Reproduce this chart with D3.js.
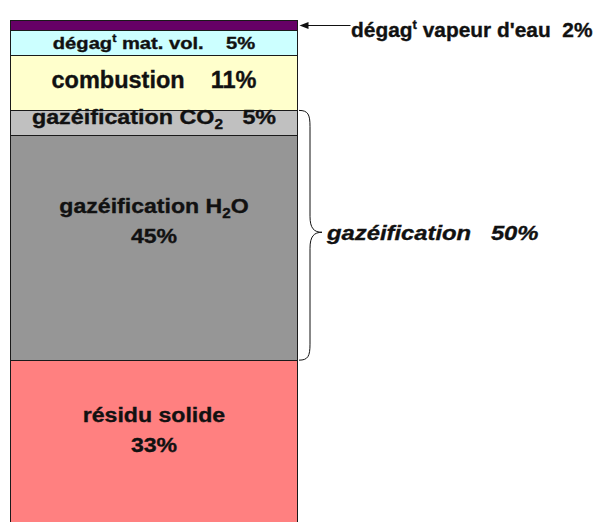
<!DOCTYPE html>
<html>
<head>
<meta charset="utf-8">
<script src="https://cdn.jsdelivr.net/npm/d3@7"></script>
<style>
  html, body { margin: 0; padding: 0; background: #fff; }
  svg { display: block; }
  text { font-family: "Liberation Sans", Arial, Helvetica, sans-serif; font-weight: bold; fill: #111; stroke: #111; stroke-width: 0.35px; white-space: pre; }
</style>
</head>
<body>
<svg id="chart" width="598" height="522"></svg>
<script>
// Share of each conversion step (%), stacked top to bottom.
// "^x" marks a superscript character, "_x" a subscript one.
const categories = ["dégag^t vapeur d'eau", "dégag^t mat. vol.", "combustion", "gazéification CO_2", "gazéification H_2O", "résidu solide"];
const shares = [2, 5, 11, 5, 45, 33];
const colors = ["#660066", "#ccffff", "#ffffcc", "#c0c0c0", "#969696", "#ff8080"];
const groupName = "gazéification";
const groupMembers = [3, 4];

const svg = d3.select("#chart");

const total = d3.sum(shares);
const ends = Array.from(d3.cumsum(shares));
const segs = shares.map((v, i) => ({ i, name: categories[i], value: v, y0: ends[i] - v, y1: ends[i] }));

const y = d3.scaleLinear().domain([0, total]).range([20.5, 525]);
const x = d3.scaleBand().domain(["bilan"]).range([10, 298]).padding(0);
const bx = x("bilan"), bw = x.bandwidth();
const cx = bx + bw / 2;

// stacked column
svg.append("g")
  .selectAll("rect")
  .data(segs)
  .join("rect")
  .attr("x", bx + 0.5)
  .attr("width", bw - 1)
  .attr("y", d => y(d.y0))
  .attr("height", d => y(d.y1) - y(d.y0))
  .attr("fill", (d, i) => colors[i])
  .attr("stroke", "#1a1a1a")
  .attr("stroke-width", 1)
  .attr("shape-rendering", "crispEdges");

// writes a string with ^/_ markers as tspans
function rich(text, str, size) {
  const parts = str.split(/(\^.|_.)/).filter(s => s !== "");
  let shift = 0;
  parts.forEach(p => {
    let target = 0, fs = null, t = p;
    if (p[0] === "^") { target = -0.42 * size; fs = size * 0.62; t = p[1]; }
    else if (p[0] === "_") { target = 0.22 * size; fs = size * 0.66; t = p[1]; }
    const ts = text.append("tspan").text(t);
    if (target - shift !== 0) ts.attr("dy", target - shift);
    if (fs) ts.attr("font-size", fs);
    shift = target;
  });
}

// one text line, horizontally stretched by sx around its anchor
function line(px, py, str, size, sx, anchor, italic) {
  const t = svg.append("text")
    .attr("transform", `translate(${px},${py}) scale(${sx},1)`)
    .attr("text-anchor", anchor)
    .attr("font-size", size);
  if (italic) t.attr("font-style", "italic");
  rich(t, str, size);
  return t;
}

const pct = v => `${v}%`;

// in-bar labels: single line with gap, or name over percentage
const labelStyle = [
  null,
  { gap: "    ", dy: [6.2], size: 16.8, sx: 1.2 },
  { gap: "    ", dy: [5.5], size: 23.5, sx: 1.0 },
  { gap: "   ", dy: [1.2], size: 21, sx: 1.11 },
  { dy: [-34.5, -4.5], size: 21, sx: 1.1 },
  { dy: [-20.2, 9.2], size: 21, sx: 1.1 }
];

segs.forEach(d => {
  const s = labelStyle[d.i];
  if (!s) return;
  const mid = (y(d.y0) + y(d.y1)) / 2;
  if (s.dy.length === 1) {
    line(cx, mid + s.dy[0], d.name + s.gap + pct(d.value), s.size, s.sx, "middle");
  } else {
    line(cx, mid + s.dy[0], d.name, s.size, s.sx, "middle");
    line(cx, mid + s.dy[1], pct(d.value), s.size, s.sx, "middle");
  }
});

// arrow callout for the thin top segment
const firstSeg = segs[0];
const ay = (y(firstSeg.y0) + y(firstSeg.y1)) / 2;
const ax = bx + bw + 1.5;
svg.append("line")
  .attr("x1", ax + 7).attr("x2", ax + 51)
  .attr("y1", ay).attr("y2", ay)
  .attr("stroke", "#111").attr("stroke-width", 1.2);
svg.append("path")
  .attr("d", `M${ax},${ay} L${ax + 9},${ay - 3.5} L${ax + 9},${ay + 3.5} Z`)
  .attr("fill", "#111");
line(ax + 51.5, ay + 11.8, firstSeg.name + "  " + pct(firstSeg.value), 20.5, 1.02, "start");

// curly brace grouping the gasification steps
const gTop = y(segs[groupMembers[0]].y0);
const gBot = y(segs[groupMembers[groupMembers.length - 1]].y1);
const gMid = (gTop + gBot) / 2 - 3;
const b0 = bx + bw + 1, b1 = b0 + 11, b2 = b0 + 23;
const r = 16;
svg.append("path")
  .attr("d", [
    `M${b0},${gTop}`,
    `C${b1 - 2},${gTop} ${b1},${gTop + 4} ${b1},${gTop + r}`,
    `L${b1},${gMid - r}`,
    `C${b1},${gMid - 4} ${b1 + 4},${gMid} ${b2},${gMid}`,
    `C${b1 + 4},${gMid} ${b1},${gMid + 4} ${b1},${gMid + r}`,
    `L${b1},${gBot - r}`,
    `C${b1},${gBot - 4} ${b1 - 2},${gBot} ${b0},${gBot}`
  ].join(" "))
  .attr("fill", "none")
  .attr("stroke", "#111")
  .attr("stroke-width", 1);

const groupShare = d3.sum(groupMembers, i => shares[i]);
line(b2 + 5, gMid + 8, groupName + "   " + pct(groupShare), 20, 1.19, "start", true);
</script>
</body>
</html>
